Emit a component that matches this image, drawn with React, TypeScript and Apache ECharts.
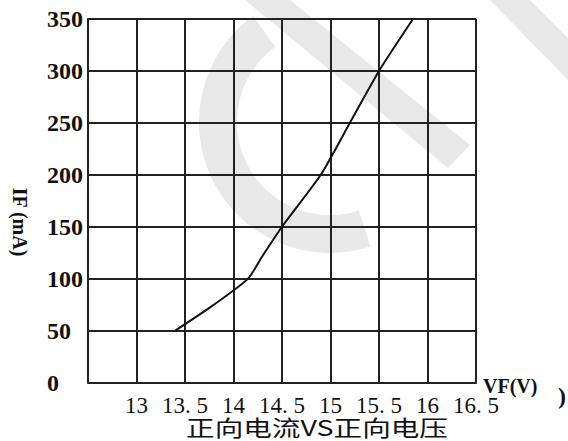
import React, { useEffect, useRef } from "react";
import * as echarts from "echarts";

const voltage = [13.4, 13.8, 14.15, 14.3, 14.5, 14.9, 15.2, 15.5, 15.85];
const current = [50, 75, 100, 122, 150, 200, 250, 300, 350];
const xTickLabels = ["", "13", "13. 5", "14", "14. 5", "15", "15. 5", "16", "16. 5"];
const yTickLabels = ["0", "50", "100", "150", "200", "250", "300", "350"];

export default function App() {
  const ref = useRef<HTMLDivElement>(null);
  useEffect(() => {
    document.body.style.margin = "0";
    const chart = echarts.init(ref.current!, undefined, { renderer: "svg" });
    const wm = "#e8e8e8";
    chart.setOption({
      animation: false,
      backgroundColor: "#fff",
      grid: { left: 88, right: 92, top: 19, bottom: 58.5 },
      xAxis: {
        type: "value",
        min: 12.5,
        max: 16.5,
        interval: 0.5,
        axisLine: { show: true, lineStyle: { color: "#222", width: 2 } },
        axisTick: { show: false },
        splitLine: { show: true, lineStyle: { color: "#222", width: 2 } },
        axisLabel: {
          color: "#111",
          fontFamily: "Liberation Serif",
          fontSize: 23,
          margin: 11,
          showMinLabel: true,
          formatter: (v: number) => xTickLabels[Math.round((v - 12.5) / 0.5)] ?? "",
        },
      },
      yAxis: {
        type: "value",
        min: 0,
        max: 350,
        interval: 50,
        axisLine: { show: true, lineStyle: { color: "#222", width: 2 } },
        axisTick: { show: false },
        splitLine: { show: true, lineStyle: { color: "#222", width: 2 } },
        axisLabel: {
          color: "#111",
          fontFamily: "Liberation Serif",
          fontWeight: "bold",
          fontSize: 24,
          align: "left",
          margin: 41,
          formatter: (v: number) => yTickLabels[Math.round(v / 50)] ?? "",
        },
      },
      graphic: [
        { type: "arc", z: -10, silent: true, shape: { cx: 330, cy: 122, r: 112, startAngle: Math.PI * 0.4, endAngle: Math.PI * 1.3, clockwise: true }, style: { stroke: wm, lineWidth: 38, fill: "none" } },
        { type: "polygon", z: -10, silent: true, shape: { points: [[245, 0], [290, 0], [470, 145], [448, 168]] }, style: { fill: wm } },
        { type: "polygon", z: -10, silent: true, shape: { points: [[490, 0], [530, 0], [568, 38], [568, 80]] }, style: { fill: wm } },
        { type: "text", z: 10, style: { text: "IF (mA)", x: 0, y: 0, fontFamily: "Liberation Serif", fontWeight: "bold", fontSize: 20, fill: "#111", align: "center", verticalAlign: "middle" }, rotation: -Math.PI / 2, x: 20, y: 222 },
        { type: "text", z: 10, style: { text: "VF(V)", x: 483, y: 386, fontFamily: "Liberation Serif", fontWeight: "bold", fontSize: 20, fill: "#111", align: "left", verticalAlign: "middle" } },
        { type: "text", z: 10, style: { text: "正向电流VS正向电压", x: 0, y: 0, fontFamily: "Noto Sans CJK SC", fontSize: 22, fill: "#111", align: "center", verticalAlign: "middle" }, x: 317, y: 426, scaleX: 1.3 },
        { type: "text", z: 10, style: { text: ")", x: 558, y: 396, fontFamily: "Liberation Serif", fontWeight: "bold", fontSize: 24, fill: "#111", align: "left", verticalAlign: "middle" } },
      ],
      series: [
        {
          type: "line",
          data: voltage.map((v, i) => [v, current[i]]),
          smooth: 0.2,
          symbol: "none",
          lineStyle: { color: "#111", width: 2 },
          z: 5,
        },
      ],
    });
    return () => chart.dispose();
  }, []);
  return <div ref={ref} style={{ width: 568, height: 441 }} />;
}
